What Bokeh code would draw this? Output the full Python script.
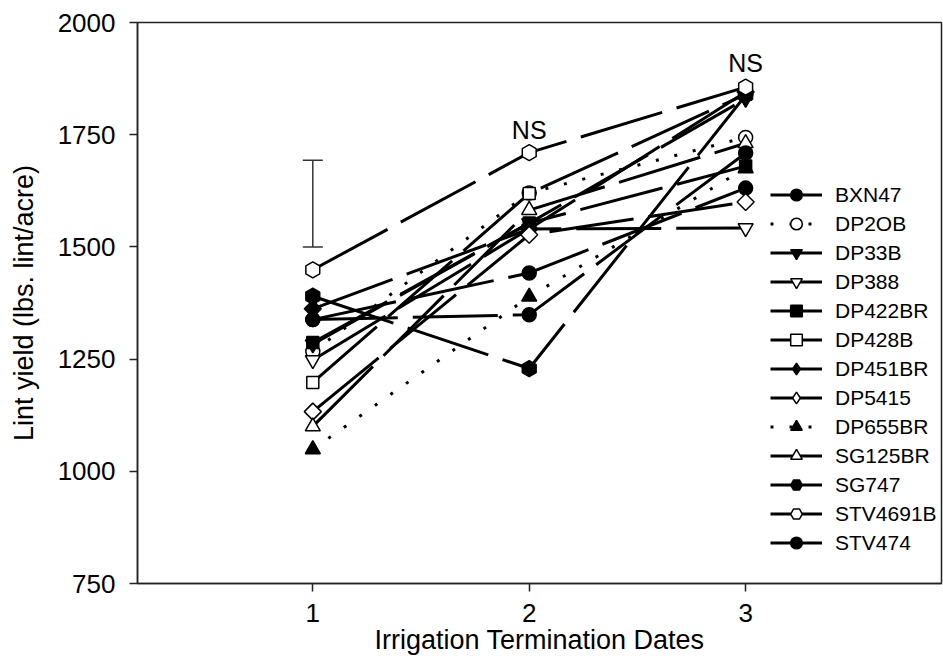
import math
from bokeh.plotting import figure
from bokeh.models import (Range1d, FixedTicker, Legend, LegendItem, Whisker,
                          ColumnDataSource, TeeHead)
from bokeh.embed import file_html
from bokeh.resources import INLINE
from bokeh.core.properties import value

# ---- data -------------------------------------------------------------
dates = [1, 2, 3]
cultivars = ["BXN47", "DP2OB", "DP33B", "DP388", "DP422BR", "DP428B", "DP451BR",
             "DP5415", "DP655BR", "SG125BR", "SG747", "STV4691B", "STV474"]
BXN47 = [1338, 1442, 1631]
DP2OB = [1267, 1620, 1744]
DP33B = [1283, 1553, 1830]
DP388 = [1248, 1540, 1542]
DP422BR = [1287, 1553, 1680]
DP428B = [1198, 1619, 1840]
DP451BR = [1362, 1540, 1845]
DP5415 = [1133, 1527, 1600]
DP655BR = [1049, 1389, 1675]
SG125BR = [1100, 1582, 1731]
SG747 = [1390, 1229, 1838]
STV4691B = [1449, 1710, 1856]
STV474 = [1338, 1349, 1709]

lsd_x = [1]
lsd_low = [1500]
lsd_high = [1693]

ns_x = [2, 3]
ns_y = [1760, 1909]
ns_text = ["NS", "NS"]

x_ticks = [1, 2, 3]
y_ticks = [750, 1000, 1250, 1500, 1750, 2000]

series = [BXN47, DP2OB, DP33B, DP388, DP422BR, DP428B, DP451BR,
          DP5415, DP655BR, SG125BR, SG747, STV4691B, STV474]

# ---- styles -----------------------------------------------------------
FONT = "Liberation Sans"
SOLID = "85 15"
DOT = "3 16"
styles = {
    "BXN47":    dict(marker="circle", fill="black", size=14, angle=0, dash=SOLID, leg=None),
    "DP2OB":    dict(marker="circle", fill="white", size=14, angle=0, dash=DOT, leg=None),
    "DP33B":    dict(marker="inverted_triangle", fill="black", size=15, angle=0, dash=SOLID, leg=None),
    "DP388":    dict(marker="inverted_triangle", fill="white", size=15, angle=0, dash=SOLID, leg=None),
    "DP422BR":  dict(marker="square", fill="black", size=12, angle=0, dash=SOLID, leg=None),
    "DP428B":   dict(marker="square", fill="white", size=12, angle=0, dash=SOLID, leg=None),
    "DP451BR":  dict(marker="square", fill="black", size=12, angle=math.pi / 4, dash=SOLID, leg="diamond"),
    "DP5415":   dict(marker="square", fill="white", size=12, angle=math.pi / 4, dash=SOLID, leg="diamond"),
    "DP655BR":  dict(marker="triangle", fill="black", size=15, angle=0, dash=DOT, leg=None),
    "SG125BR":  dict(marker="triangle", fill="white", size=15, angle=0, dash=SOLID, leg=None),
    "SG747":    dict(marker="hex", fill="black", size=16, angle=math.pi / 6, dash=SOLID, leg=None),
    "STV4691B": dict(marker="hex", fill="white", size=16, angle=math.pi / 6, dash=SOLID, leg=None),
    "STV474":   dict(marker="circle", fill="black", size=14, angle=0, dash=SOLID, leg=None),
}

p = figure(width=943, height=664, output_backend="svg", toolbar_location=None,
           x_range=Range1d(0.19, 3.905), y_range=Range1d(750, 2000),
           min_border_left=137, min_border_right=2, min_border_top=22,
           min_border_bottom=81)
p.background_fill_color = "white"
p.border_fill_color = "white"
p.outline_line_color = "#222222"
p.outline_line_width = 1.5
p.xgrid.visible = False
p.ygrid.visible = False

items = []
for name, vals in zip(cultivars, series):
    st = styles[name]
    lr = p.line(dates, vals, line_color="black", line_width=3,
                line_dash=st["dash"])
    sr = p.scatter(dates, vals, marker=st["marker"], size=st["size"],
                   angle=st["angle"], fill_color=st["fill"],
                   line_color="black", line_width=1.5)
    if st["leg"] is not None:
        lg = p.scatter(dates, vals, marker=st["leg"], size=st["size"],
                       fill_color=st["fill"], line_color="black",
                       line_width=1.5, visible=False)
        items.append(LegendItem(label=name, renderers=[lr, lg]))
    else:
        items.append(LegendItem(label=name, renderers=[lr, sr]))

# LSD error bar
src = ColumnDataSource(dict(x=lsd_x, lo=lsd_low, hi=lsd_high))
wh = Whisker(base="x", lower="lo", upper="hi", source=src,
             line_color="#333333", line_width=1.5,
             upper_head=TeeHead(size=20, line_color="#333333", line_width=1.5),
             lower_head=TeeHead(size=20, line_color="#333333", line_width=1.5))
p.add_layout(wh)

# NS labels
p.text(ns_x, ns_y, text=ns_text, text_font=value(FONT), text_font_size="25px",
       text_align="center", text_baseline="middle", text_color="black")

legend = Legend(items=items, location=(633, 26), orientation="vertical")
legend.border_line_color = None
legend.background_fill_alpha = 0
legend.padding = 0
legend.margin = 0
legend.spacing = 0
legend.glyph_width = 52
legend.glyph_height = 29
legend.label_height = 29
legend.label_standoff = 13
legend.label_text_font = FONT
legend.label_text_font_size = "21px"
legend.label_text_color = "black"
legend.label_text_baseline = "middle"
p.add_layout(legend)

for ax in (p.xaxis[0], p.yaxis[0]):
    ax.axis_line_color = "#222222"
    ax.axis_line_width = 1.5
    ax.major_tick_line_color = "#222222"
    ax.major_tick_line_width = 1.5
    ax.major_tick_out = 8
    ax.major_tick_in = 0
    ax.minor_tick_line_color = None
    ax.major_label_text_font = FONT
    ax.major_label_text_font_size = "26px"
    ax.major_label_text_color = "black"
    ax.axis_label_text_font = FONT
    ax.axis_label_text_font_size = "27px"
    ax.axis_label_text_font_style = "normal"
    ax.axis_label_text_color = "black"

p.xaxis.ticker = FixedTicker(ticks=x_ticks)
p.yaxis.ticker = FixedTicker(ticks=y_ticks)
p.xaxis.axis_label = "Irrigation Termination Dates"
p.yaxis.axis_label = "Lint yield (lbs. lint/acre)"
p.xaxis.major_label_standoff = 12
p.xaxis.axis_label_standoff = 0
p.yaxis.major_label_standoff = 14
p.yaxis.axis_label_standoff = 16

open("out.html", "w").write(file_html(p, INLINE))
